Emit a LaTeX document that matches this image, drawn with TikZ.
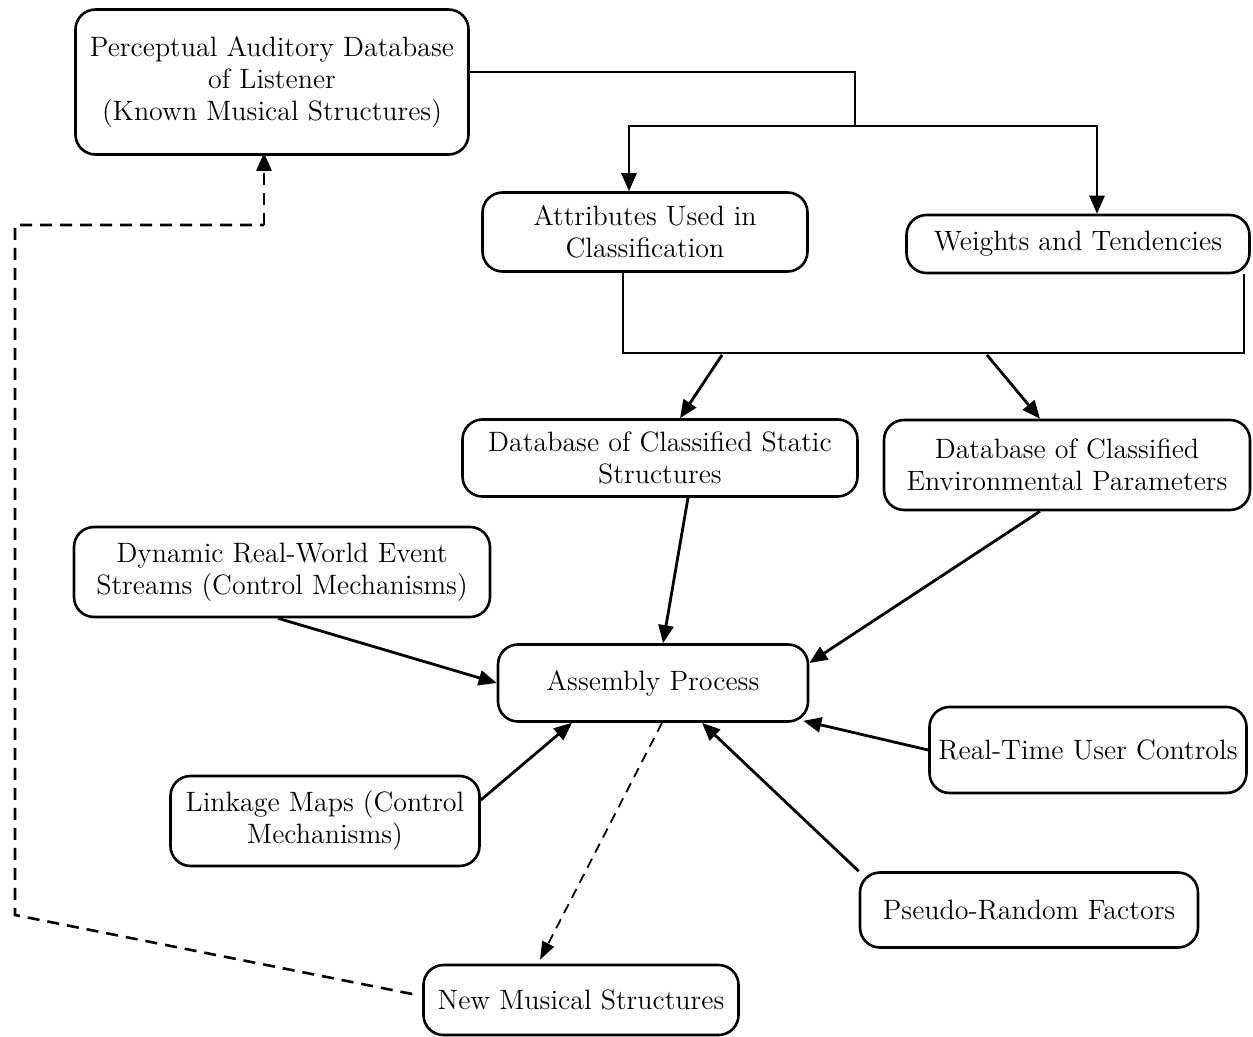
\documentclass[tikz,border=0pt]{standalone}
\usetikzlibrary{arrows.meta,calc}
\begin{document}
\begin{tikzpicture}[x=0.5pt,y=-0.5pt,
  box/.style={draw,line width=1.3pt,rounded corners=10pt,align=center,inner sep=0pt,
    font=\fontsize{14}{16}\selectfont},
  ln/.style={line width=1.4pt},
  arr/.style={ln,-{Triangle[length=9pt,width=7.5pt]}},
  dsh/.style={line width=1.3pt,dash pattern=on 6pt off 4pt},
  dsh2/.style={line width=0.9pt,dash pattern=on 5pt off 3.5pt,-{Triangle[length=9pt,width=6.5pt]}}]
\useasboundingbox (0,0) rectangle (1253,1037);
\node[box,minimum width=196.5pt,minimum height=72.5pt] (pa) at (272,82)
  {Perceptual Auditory Database\\of Listener\\(Known Musical Structures)};
\node[box,minimum width=162.5pt,minimum height=39.5pt] (att) at (645,232)
  {Attributes Used in\\Classification};
\node[box,minimum width=171.5pt,minimum height=29pt] (wt) at (1078,244)
  {Weights and Tendencies};
\node[box,minimum width=197.5pt,minimum height=38.5pt] (dbs) at (660,458)
  {Database of Classified Static\\Structures};
\node[box,minimum width=183pt,minimum height=45pt] (env) at (1067,465)
  {Database of Classified\\Environmental Parameters};
\node[box,minimum width=208pt,minimum height=45pt] (dyn) at (282,572)
  {Dynamic Real-World Event\\Streams (Control Mechanisms)};
\node[box,minimum width=155pt,minimum height=38.5pt] (ap) at (653,683)
  {Assembly Process};
\node[box,minimum width=158.5pt,minimum height=43pt] (rt) at (1088,750)
  {Real-Time User Controls};
\node[box,minimum width=154.5pt,minimum height=45pt] (lk) at (325,821)
  {Linkage Maps (Control\\Mechanisms)};
\node[box,minimum width=169pt,minimum height=37.5pt] (pr) at (1029,910)
  {Pseudo-Random Factors};
\node[box,minimum width=157.5pt,minimum height=35pt] (nw) at (581,1000)
  {New Musical Structures};
% top distribution
\coordinate (j1) at (855,126);
\draw[ln] ([yshift=5pt]pa.east) -| (j1);
\draw[arr] (j1) -| ([xshift=-8pt]att.north);
\draw[arr] (j1) -| ([xshift=9.5pt]wt.north);
% bracket
\coordinate (j2) at (900,353);
\draw[ln] ([xshift=-11pt]att.south) |- (j2) -| ([xshift=83pt]wt.south);
\coordinate (b1) at (722,355);
\coordinate (b2) at (987,355);
\draw[arr] (b1) -- ([xshift=10pt]dbs.north);
\draw[arr] (b2) -- ([xshift=-13.5pt]env.north);
% into assembly
\draw[arr] ([xshift=14pt]dbs.south) -- ([xshift=5pt]ap.north);
\draw[arr] ([xshift=-13.5pt]env.south) -- ([yshift=10pt]ap.east);
\draw[arr] ([xshift=-2pt]dyn.south) -- (ap.west);
\draw[arr] ([yshift=10.5pt]lk.east) -- ([xshift=-40.5pt]ap.south);
\draw[arr] (rt.west) -- ([xshift=-3pt,yshift=1pt]ap.south east);
\draw[arr] (pr.north west) -- ([xshift=24.5pt]ap.south);
\draw[dsh2] ([xshift=4.5pt]ap.south) -- ([xshift=-20.5pt,yshift=2pt]nw.north);
% feedback
\coordinate (f1) at (15,915);
\coordinate (f2) at (15,225);
\coordinate (f3) at (264,225);
\draw[dsh] ([xshift=-5pt,yshift=3pt]nw.west) -- (f1) -- (f2) -- (f3);
\draw[dsh,-{Triangle[length=9pt,width=7.5pt]}] (f3) -- ([xshift=-4pt,yshift=1.5pt]pa.south);
\end{tikzpicture}
\end{document}
